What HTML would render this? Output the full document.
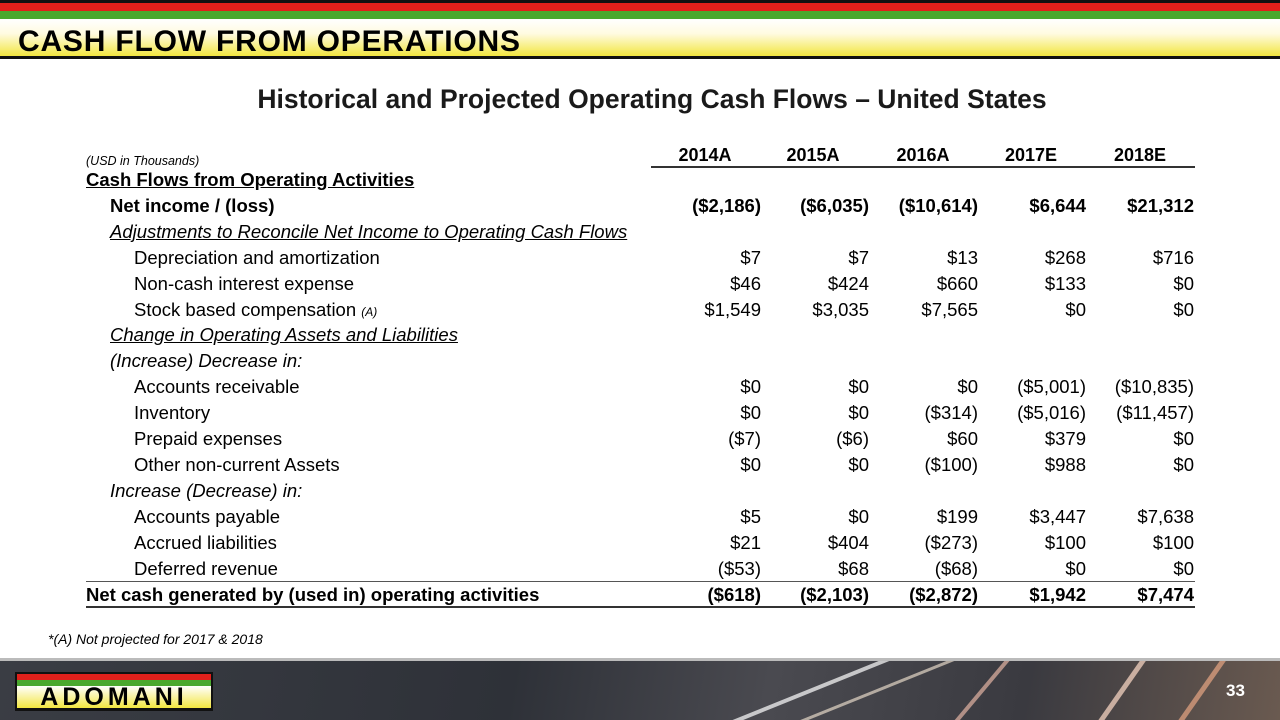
<!DOCTYPE html>
<html><head><meta charset="utf-8"><style>
*{margin:0;padding:0;box-sizing:border-box}
html,body{width:1280px;height:720px;overflow:hidden}
body{position:relative;background:#fff;font-family:"Liberation Sans",sans-serif;color:#000}
.a{position:absolute;white-space:nowrap}
.r{position:absolute;left:0;width:1280px;height:26px;line-height:26px;font-size:18.5px}
.r span{position:absolute}
.n{text-align:right;width:130px}
</style></head><body>
<div class="a" style="left:0;top:0;width:1280px;height:3px;background:#111"></div>
<div class="a" style="left:0;top:3px;width:1280px;height:8px;background:#e0201b"></div>
<div class="a" style="left:0;top:11px;width:1280px;height:8px;background:#4aa82e"></div>
<div class="a" style="left:0;top:19px;width:1280px;height:37px;background:linear-gradient(#fff 0%,#fffbe0 40%,#f2e640 100%)"></div>
<div class="a" style="left:0;top:56px;width:1280px;height:3px;background:#111"></div>
<div class="a" style="left:18px;top:25px;font-size:30px;font-weight:bold;letter-spacing:0.8px;line-height:34px">CASH FLOW FROM OPERATIONS</div>
<div class="a" style="left:0;width:1280px;top:84px;text-align:center;font-size:26.5px;font-weight:bold;color:#1a1a1a;padding-left:24px">Historical and Projected Operating Cash Flows – United States</div>
<div class="a" style="left:86px;top:154px;font-size:12.5px;font-style:italic">(USD in Thousands)</div>
<div class="r" style="top:142px;font-weight:bold;font-size:18px">
<span style="left:645px;width:120px;text-align:center">2014A</span>
<span style="left:753px;width:120px;text-align:center">2015A</span>
<span style="left:863px;width:120px;text-align:center">2016A</span>
<span style="left:971px;width:120px;text-align:center">2017E</span>
<span style="left:1080px;width:120px;text-align:center">2018E</span></div>
<div class="a" style="left:651px;top:166px;width:544px;height:2px;background:#333"></div>
<div class="r" style="top:167px;font-weight:bold"><span style="left:86px;text-decoration:underline">Cash Flows from Operating Activities</span></div>

<div class="r" style="top:193px;font-weight:bold"><span style="left:110px">Net income / (loss)</span><span class="n" style="left:631px">($2,186)</span><span class="n" style="left:739px">($6,035)</span><span class="n" style="left:848px">($10,614)</span><span class="n" style="left:956px">$6,644</span><span class="n" style="left:1064px">$21,312</span></div>
<div class="r" style="top:219px;font-style:italic"><span style="left:110px;text-decoration:underline">Adjustments to Reconcile Net Income to Operating Cash Flows</span></div>
<div class="r" style="top:245px"><span style="left:134px">Depreciation and amortization</span><span class="n" style="left:631px">$7</span><span class="n" style="left:739px">$7</span><span class="n" style="left:848px">$13</span><span class="n" style="left:956px">$268</span><span class="n" style="left:1064px">$716</span></div>
<div class="r" style="top:271px"><span style="left:134px">Non-cash interest expense</span><span class="n" style="left:631px">$46</span><span class="n" style="left:739px">$424</span><span class="n" style="left:848px">$660</span><span class="n" style="left:956px">$133</span><span class="n" style="left:1064px">$0</span></div>
<div class="r" style="top:297px"><span style="left:134px">Stock based compensation <i style="font-size:12px">(A)</i></span><span class="n" style="left:631px">$1,549</span><span class="n" style="left:739px">$3,035</span><span class="n" style="left:848px">$7,565</span><span class="n" style="left:956px">$0</span><span class="n" style="left:1064px">$0</span></div>
<div class="r" style="top:322px;font-style:italic"><span style="left:110px;text-decoration:underline">Change in Operating Assets and Liabilities</span></div>
<div class="r" style="top:348px;font-style:italic"><span style="left:110px">(Increase) Decrease in:</span></div>
<div class="r" style="top:374px"><span style="left:134px">Accounts receivable</span><span class="n" style="left:631px">$0</span><span class="n" style="left:739px">$0</span><span class="n" style="left:848px">$0</span><span class="n" style="left:956px">($5,001)</span><span class="n" style="left:1064px">($10,835)</span></div>
<div class="r" style="top:400px"><span style="left:134px">Inventory</span><span class="n" style="left:631px">$0</span><span class="n" style="left:739px">$0</span><span class="n" style="left:848px">($314)</span><span class="n" style="left:956px">($5,016)</span><span class="n" style="left:1064px">($11,457)</span></div>
<div class="r" style="top:426px"><span style="left:134px">Prepaid expenses</span><span class="n" style="left:631px">($7)</span><span class="n" style="left:739px">($6)</span><span class="n" style="left:848px">$60</span><span class="n" style="left:956px">$379</span><span class="n" style="left:1064px">$0</span></div>
<div class="r" style="top:452px"><span style="left:134px">Other non-current Assets</span><span class="n" style="left:631px">$0</span><span class="n" style="left:739px">$0</span><span class="n" style="left:848px">($100)</span><span class="n" style="left:956px">$988</span><span class="n" style="left:1064px">$0</span></div>
<div class="r" style="top:478px;font-style:italic"><span style="left:110px">Increase (Decrease) in:</span></div>
<div class="r" style="top:504px"><span style="left:134px">Accounts payable</span><span class="n" style="left:631px">$5</span><span class="n" style="left:739px">$0</span><span class="n" style="left:848px">$199</span><span class="n" style="left:956px">$3,447</span><span class="n" style="left:1064px">$7,638</span></div>
<div class="r" style="top:530px"><span style="left:134px">Accrued liabilities</span><span class="n" style="left:631px">$21</span><span class="n" style="left:739px">$404</span><span class="n" style="left:848px">($273)</span><span class="n" style="left:956px">$100</span><span class="n" style="left:1064px">$100</span></div>
<div class="r" style="top:556px"><span style="left:134px">Deferred revenue</span><span class="n" style="left:631px">($53)</span><span class="n" style="left:739px">$68</span><span class="n" style="left:848px">($68)</span><span class="n" style="left:956px">$0</span><span class="n" style="left:1064px">$0</span></div>
<div class="a" style="left:86px;top:581px;width:1109px;height:1px;background:#555"></div>
<div class="r" style="top:582px;font-weight:bold"><span style="left:86px">Net cash generated by (used in) operating activities</span><span class="n" style="left:631px">($618)</span><span class="n" style="left:739px">($2,103)</span><span class="n" style="left:848px">($2,872)</span><span class="n" style="left:956px">$1,942</span><span class="n" style="left:1064px">$7,474</span></div>
<div class="a" style="left:86px;top:606px;width:1109px;height:2px;background:#333"></div>
<div class="a" style="left:48px;top:631px;font-size:14px;font-style:italic">*(A) Not projected for 2017 &amp; 2018</div>

<div class="a" style="left:0;top:658px;width:1280px;height:3px;background:#bbb"></div>
<div class="a" style="left:0;top:661px;width:1280px;height:59px;background:linear-gradient(100deg,#3a3d44 0%,#2e3138 40%,#4a4a50 60%,#3a3a40 80%,#6a5a50 100%);overflow:hidden">
<div class="a" style="left:650px;top:40px;width:260px;height:4px;background:rgba(255,255,255,0.7);transform:rotate(-22deg)"></div>
<div class="a" style="left:720px;top:35px;width:280px;height:3px;background:rgba(255,240,220,0.6);transform:rotate(-22deg)"></div>
<div class="a" style="left:900px;top:30px;width:160px;height:4px;background:rgba(255,200,180,0.6);transform:rotate(-50deg)"></div>
<div class="a" style="left:1040px;top:30px;width:160px;height:5px;background:rgba(255,220,200,0.7);transform:rotate(-55deg)"></div>
<div class="a" style="left:1120px;top:30px;width:160px;height:5px;background:rgba(255,180,140,0.6);transform:rotate(-55deg)"></div>
</div>
<div class="a" style="left:15px;top:672px;width:198px;height:39px;background:#111"></div>
<div class="a" style="left:17px;top:674px;width:194px;height:6px;background:#e0201b"></div>
<div class="a" style="left:17px;top:680px;width:194px;height:6px;background:#4aa82e"></div>
<div class="a" style="left:17px;top:686px;width:194px;height:22px;background:linear-gradient(#fff,#f2e640)"></div>
<div class="a" style="left:17px;top:684px;width:194px;text-align:center;font-size:25px;font-weight:bold;line-height:26px;letter-spacing:4px">ADOMANI</div>
<div class="a" style="left:1226px;top:681px;font-size:17px;font-weight:bold;color:#fff">33</div>
</body></html>
